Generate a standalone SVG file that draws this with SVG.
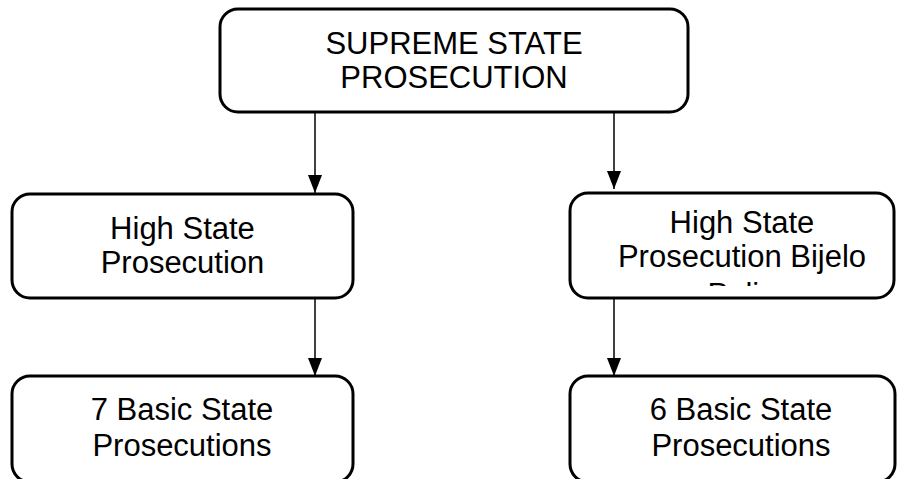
<svg xmlns="http://www.w3.org/2000/svg" width="904" height="479" viewBox="0 0 904 479">
  <style>
    .box { fill: #ffffff; stroke: #000000; stroke-width: 3; }
    .lbl { font-family: "Liberation Sans", Arial, sans-serif; font-size: 31px; fill: #000000; text-anchor: middle; }
    .edge { stroke: #000000; stroke-width: 1.5; fill: none; marker-end: url(#head); }
  </style>
  <defs>
    <!-- filled triangular arrowhead, tip at the end of the line -->
    <marker id="head" viewBox="0 0 18 14" refX="18" refY="7" markerWidth="18" markerHeight="14" markerUnits="userSpaceOnUse" orient="auto">
      <path d="M0,0 L18,7 L0,14 Z" fill="#000000"/>
    </marker>
    <!-- the third label line of the Bijelo Polje box overflows and is cut off -->
    <clipPath id="bijelo-clip">
      <rect x="572" y="195" width="320" height="91"/>
    </clipPath>
  </defs>

  <g id="connectors">
    <line class="edge" x1="315" y1="113" x2="315" y2="193"/>
    <line class="edge" x1="614" y1="113" x2="614" y2="189"/>
    <line class="edge" x1="315" y1="299" x2="315" y2="376"/>
    <line class="edge" x1="614" y1="299" x2="614" y2="376"/>
  </g>

  <g id="supreme">
    <rect class="box" x="220" y="9" width="468" height="103" rx="18"/>
    <text class="lbl" x="454" y="54">SUPREME STATE</text>
    <text class="lbl" x="454" y="88">PROSECUTION</text>
  </g>

  <g id="high-state">
    <rect class="box" x="12" y="194" width="341" height="104" rx="18"/>
    <text class="lbl" x="182.5" y="239">High State</text>
    <text class="lbl" x="182.5" y="273">Prosecution</text>
  </g>

  <g id="high-state-bijelo-polje">
    <rect class="box" x="570" y="193" width="324" height="105" rx="18"/>
    <text class="lbl" x="742" y="233">High State</text>
    <text class="lbl" x="742" y="267">Prosecution Bijelo</text>
    <text class="lbl" x="742" y="305" clip-path="url(#bijelo-clip)">Polje</text>
  </g>

  <g id="basic-7">
    <rect class="box" x="12" y="376" width="341" height="106" rx="18"/>
    <text class="lbl" x="182" y="420">7 Basic State</text>
    <text class="lbl" x="182" y="456">Prosecutions</text>
  </g>

  <g id="basic-6">
    <rect class="box" x="570" y="376" width="325" height="106" rx="18"/>
    <text class="lbl" x="741" y="420">6 Basic State</text>
    <text class="lbl" x="741" y="456">Prosecutions</text>
  </g>
</svg>
